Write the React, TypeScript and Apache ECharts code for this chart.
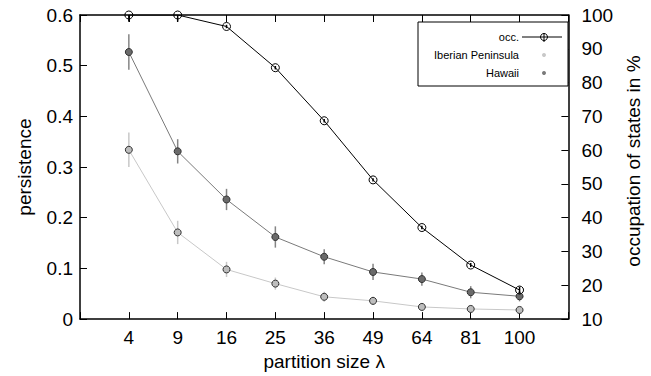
import React, { useEffect, useRef } from "react";
import * as echarts from "echarts";

const lambdas = [4, 9, 16, 25, 36, 49, 64, 81, 100];
const xTicks = [1, 2, 3, 4, 5, 6, 7, 8, 9, 10, 11];
const iberian = [0.334, 0.171, 0.098, 0.07, 0.044, 0.036, 0.024, 0.02, 0.018];
const iberianErr = [0.034, 0.023, 0.015, 0.012, 0.01, 0.008, 0.006, 0.005, 0.005];
const hawaii = [0.527, 0.331, 0.236, 0.162, 0.123, 0.093, 0.079, 0.053, 0.045];
const hawaiiErr = [0.035, 0.024, 0.021, 0.021, 0.015, 0.016, 0.013, 0.012, 0.01];
const occ = [100, 100, 96.6, 84.4, 68.7, 51.2, 37.1, 26.0, 18.6];
const occErr = [2, 2, 0.5, 0.5, 0.5, 0.5, 0.5, 0.6, 1];
const legendNames = ["occ.", "Iberian Peninsula", "Hawaii"];

const FONT = "'Liberation Sans', Arial, sans-serif";
const FS = 19;

function pts(vals: number[]) {
  return lambdas.map((l, i) => [Math.sqrt(l), vals[i]]);
}
function errs(vals: number[], e: number[]) {
  return lambdas.map((l, i) => [Math.sqrt(l), vals[i] - e[i], vals[i] + e[i]]);
}
function errSeries(vals: number[], e: number[], yIdx: number, color: string, z: number) {
  return {
    type: "custom",
    xAxisIndex: 0,
    yAxisIndex: yIdx,
    data: errs(vals, e),
    encode: { x: 0, y: [1, 2] },
    clip: true,
    z,
    silent: true,
    renderItem: (params: any, api: any) => {
      const p1 = api.coord([api.value(0), api.value(1)]);
      const p2 = api.coord([api.value(0), api.value(2)]);
      return {
        type: "line",
        shape: { x1: p1[0], y1: p1[1], x2: p2[0], y2: p2[1] },
        style: { stroke: color, lineWidth: 1.5 },
      };
    },
  };
}

function labelFor(v: number) {
  const l = lambdas.find((x) => Math.abs(Math.sqrt(x) - v) < 1e-6);
  return l === undefined ? "" : String(l);
}

export default function App() {
  const ref = useRef<HTMLDivElement>(null);
  useEffect(() => {
    if (!ref.current) return;
    const chart = echarts.init(ref.current, null, { renderer: "svg" });
    const axisLine = { show: true, lineStyle: { color: "#000", width: 1.5 } };
    const tick = { show: true, inside: true, length: 7, lineStyle: { color: "#000", width: 1 } };
    const xBase = {
      type: "value",
      min: xTicks[0],
      max: xTicks[xTicks.length - 1],
      interval: 1,
      splitLine: { show: false },
      axisLine,
      axisTick: tick,
    };
    const legendY = [37, 55, 73];
    chart.setOption({
      animation: false,
      backgroundColor: "#fff",
      textStyle: { fontFamily: FONT },
      grid: { left: 80, right: 76, top: 15, bottom: 56 },
      xAxis: [
        {
          ...xBase,
          position: "bottom",
          name: "partition size \u03bb",
          nameLocation: "middle",
          nameGap: 30,
          nameTextStyle: { fontSize: FS, color: "#000", fontFamily: FONT },
          axisLabel: { fontSize: FS, color: "#000", margin: 9, formatter: (v: number) => labelFor(v), fontFamily: FONT },
        },
        {
          ...xBase,
          position: "top",
          axisLabel: { show: false },
        },
      ],
      yAxis: [
        {
          type: "value",
          position: "left",
          min: 0,
          max: 0.6,
          interval: 0.1,
          splitLine: { show: false },
          axisLine,
          axisTick: tick,
          name: "persistence",
          nameLocation: "middle",
          nameRotate: 90,
          nameGap: 46,
          nameTextStyle: { fontSize: FS, color: "#000", fontFamily: FONT },
          axisLabel: { fontSize: FS, color: "#000", margin: 7, fontFamily: FONT },
        },
        {
          type: "value",
          position: "right",
          min: 10,
          max: 100,
          interval: 10,
          splitLine: { show: false },
          axisLine,
          axisTick: tick,
          name: "occupation of states in %",
          nameLocation: "middle",
          nameRotate: 90,
          nameGap: 47,
          nameTextStyle: { fontSize: FS, color: "#000", fontFamily: FONT, padding: [0, 0, 0, 12] },
          axisLabel: { fontSize: FS, color: "#000", margin: 13, fontFamily: FONT },
        },
      ],
      series: [
        errSeries(iberian, iberianErr, 0, "#c8c8c8", 2),
        errSeries(hawaii, hawaiiErr, 0, "#858585", 2),
        {
          type: "line",
          name: legendNames[1],
          xAxisIndex: 0,
          yAxisIndex: 0,
          data: pts(iberian),
          symbol: "circle",
          symbolSize: 7,
          lineStyle: { color: "#c8c8c8", width: 1 },
          itemStyle: { color: "#bdbdbd", borderColor: "#303030", borderWidth: 1 },
          z: 3,
        },
        {
          type: "line",
          name: legendNames[2],
          xAxisIndex: 0,
          yAxisIndex: 0,
          data: pts(hawaii),
          symbol: "circle",
          symbolSize: 7,
          lineStyle: { color: "#7a7a7a", width: 1 },
          itemStyle: { color: "#6a6a6a", borderColor: "#303030", borderWidth: 1 },
          z: 3,
        },
        {
          type: "line",
          name: legendNames[0],
          xAxisIndex: 0,
          yAxisIndex: 1,
          data: pts(occ),
          symbol: "circle",
          symbolSize: 8,
          lineStyle: { color: "#000", width: 1 },
          itemStyle: { color: "rgba(255,255,255,0)", borderColor: "#000", borderWidth: 1 },
          z: 4,
        },
        errSeries(occ, occErr, 1, "#000", 5),
      ],
      graphic: [
        {
          type: "rect",
          shape: { x: 418, y: 22, width: 150, height: 64 },
          style: { fill: "#fff", stroke: "#000", lineWidth: 1 },
          z: 100,
        },
        ...legendNames.map((n, i) => ({
          type: "text",
          x: 519,
          y: legendY[i],
          style: { text: n, fontSize: 11, fontFamily: FONT, fill: "#000", align: "right", verticalAlign: "middle" },
          z: 101,
        })),
        {
          type: "line",
          shape: { x1: 522, y1: legendY[0], x2: 562, y2: legendY[0] },
          style: { stroke: "#000", lineWidth: 1 },
          z: 101,
        },
        {
          type: "line",
          shape: { x1: 544, y1: legendY[0] - 4, x2: 544, y2: legendY[0] + 5 },
          style: { stroke: "#000", lineWidth: 1 },
          z: 101,
        },
        {
          type: "circle",
          shape: { cx: 544, cy: legendY[0], r: 3.5 },
          style: { fill: "none", stroke: "#000", lineWidth: 1 },
          z: 102,
        },
        {
          type: "circle",
          shape: { cx: 544, cy: legendY[1], r: 2 },
          style: { fill: "#c8c8c8" },
          z: 101,
        },
        {
          type: "circle",
          shape: { cx: 544, cy: legendY[2], r: 2 },
          style: { fill: "#7a7a7a" },
          z: 101,
        },
      ],
    });
    return () => chart.dispose();
  }, []);
  return <div ref={ref} style={{ position: "fixed", left: 0, top: 0, width: 651, height: 376 }} />;
}
